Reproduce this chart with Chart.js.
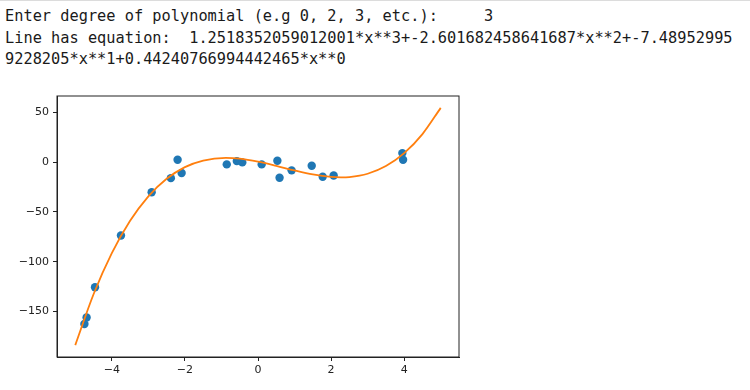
<!DOCTYPE html>
<html><head><meta charset="utf-8">
<script src="https://cdn.jsdelivr.net/npm/chart.js@4/dist/chart.umd.min.js"></script>
<style>
html,body{margin:0;padding:0;background:#fff;width:750px;height:390px;overflow:hidden;}
#topline{position:absolute;left:0;top:0;width:750px;height:1px;background:#dcdcdc;}
pre{position:absolute;left:5px;top:6px;margin:0;font-family:"DejaVu Sans Mono",monospace;font-size:15.3px;line-height:21.5px;color:#1a1a1a;}
#wrap{position:absolute;left:0;top:85px;width:480px;height:305px;}
</style></head><body>
<div id="topline"></div>
<pre>Enter degree of polynomial (e.g 0, 2, 3, etc.):     3
Line has equation:  1.2518352059012001*x**3+-2.601682458641687*x**2+-7.48952995
9228205*x**1+0.44240766994442465*x**0</pre>
<div id="wrap"><canvas id="c" width="480" height="305"></canvas></div>
<script>
// scatter data points
const xPts = [-4.75,-4.69,-4.46,-3.75,-2.91,-2.385,-2.20,-2.09,-0.855,-0.58,-0.43,0.10,0.53,0.59,0.92,1.47,1.77,2.07,3.95,3.97];
const yPts = [-162.4,-155.8,-125.6,-73.7,-30.2,-16.1,2.4,-11,-2.3,1,-0.3,-2.3,1.4,-15.7,-8.3,-3.6,-14.7,-13.4,9,2.4];
// fitted curve, read at sample positions
const curveX = [-5,-4.5,-4,-3.5,-3,-2.5,-2,-1.5,-0.88,-0.5,0,0.5,1,1.5,2,2.27,2.5,3,3.5,4,4.5,5];
const curveY = [-183.6,-132.6,-91.4,-58.9,-34.3,-16.7,-5.0,1.6,4.2,3.4,0.4,-3.8,-8.4,-12.4,-14.9,-15.3,-15.0,-11.7,-4.0,9.0,28.1,54.4];
// tick labels
const xTicks = [-4,-2,0,2,4];
const yTicks = [50,0,-50,-100,-150];

const fmt = v => (v < 0 ? '\u2212' + Math.abs(v) : String(v));
const boxPlugin = {
  id:'box',
  afterDatasetsDraw(chart){
    const {ctx, chartArea:a} = chart;
    ctx.save();
    ctx.strokeStyle = '#222';
    ctx.lineWidth = 1;
    ctx.strokeRect(a.left, a.top, a.right - a.left, a.bottom - a.top);
    ctx.restore();
  }
};
const tickFont = {family:'"DejaVu Sans", sans-serif', size:11};
new Chart(document.getElementById('c'), {
  type:'scatter',
  data:{
    datasets:[
      {
        data: curveX.map((x,i)=>({x, y:curveY[i]})),
        showLine:true, pointRadius:0, borderColor:'#ff7f0e', borderWidth:1.8,
        cubicInterpolationMode:'monotone', order:0, fill:false
      },
      {
        data: xPts.map((x,i)=>({x, y:yPts[i]})),
        pointRadius:4.2, pointBorderWidth:0, backgroundColor:'#1f77b4', borderColor:'#1f77b4', order:1
      }
    ]
  },
  options:{
    responsive:false, animation:false,
    layout:{padding:{top:11, right:21, left:0, bottom:0}},
    plugins:{legend:{display:false}, tooltip:{enabled:false}},
    scales:{
      x:{
        type:'linear', position:'bottom', min:-5.5, max:5.5,
        afterBuildTicks: s => { s.ticks = xTicks.map(v=>({value:v})); },
        afterFit: s => { s.height = 33; },
        ticks:{callback: v => fmt(v), color:'#222', font:tickFont, padding:3, maxRotation:0},
        grid:{drawOnChartArea:false, drawTicks:true, tickLength:4, color:'#222'},
        border:{display:true, color:'#222'}
      },
      y:{
        type:'linear', min:-195.5, max:66.3,
        afterBuildTicks: s => { s.ticks = yTicks.map(v=>({value:v})); },
        afterFit: s => { s.width = 57; },
        ticks:{callback: v => fmt(v), color:'#222', font:tickFont, padding:4},
        grid:{drawOnChartArea:false, drawTicks:true, tickLength:4, color:'#222'},
        border:{display:true, color:'#222'}
      }
    }
  },
  plugins:[boxPlugin]
});
</script>
</body></html>
